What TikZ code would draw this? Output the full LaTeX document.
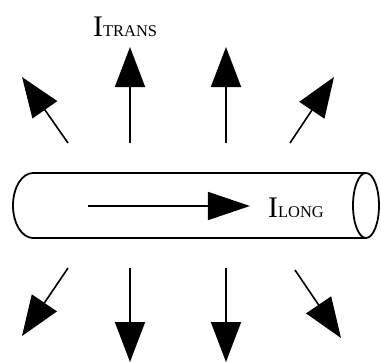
\documentclass[tikz,border=0pt]{standalone}
\usepackage{fontspec}
\setmainfont{Liberation Serif}
\usetikzlibrary{arrows.meta,positioning}

\newcommand{\curlabel}[1]{{\fontsize{30}{32}\selectfont I}{\fontsize{16.5}{18}\selectfont #1}}

\begin{document}
\begin{tikzpicture}[x=1bp,y=-1bp,
    emit/.style={line width=1.6bp,-{Triangle[length=40bp,width=30bp]}},
    flow/.style={line width=1.6bp,-{Triangle[length=42bp,width=28bp]}},
    label/.style={inner sep=0pt,anchor=base west}]
  \tikzstyle{wire}=[line width=1.8bp,line join=round]
  \useasboundingbox (0,0) rectangle (381,362);

  % Wire
  \coordinate (tl) at (33,173);
  \coordinate (tr) at (366,173);
  \coordinate (bl) at (33,238);
  \coordinate (br) at (366,238);
  \draw[wire] (tl) -- (tr) (bl) -- (br);
  \draw[wire] (tl) arc[start angle=-90,end angle=-270,x radius=20,y radius=32.5];
  \draw[wire] (366,205.5) ellipse[x radius=13,y radius=32.5];

  % Longitudinal current
  \coordinate (l0) at (88,206);
  \coordinate (l1) at (250,206);
  \draw[flow] (l0) -- (l1);
  \node[label] (long) at (268,217) {\curlabel{LONG}};

  % Transverse emission, top
  \coordinate (t1a) at (68,143);  \coordinate (t1b) at (22,77);
  \coordinate (t2a) at (130,143); \coordinate (t2b) at (130,47);
  \coordinate (t3a) at (226,143); \coordinate (t3b) at (226,47);
  \coordinate (t4a) at (290,143); \coordinate (t4b) at (334,77);
  \draw[emit] (t1a) -- (t1b);
  \draw[emit] (t2a) -- (t2b);
  \draw[emit] (t3a) -- (t3b);
  \draw[emit] (t4a) -- (t4b);
  \node[label] (trans) at (93,36) {\curlabel{TRANS}};

  % Transverse emission, bottom
  \coordinate (b1a) at (68,268);  \coordinate (b1b) at (22,336);
  \coordinate (b2a) at (130,268); \coordinate (b2b) at (130,362);
  \coordinate (b3a) at (226,268); \coordinate (b3b) at (226,362);
  \coordinate (b4a) at (295,270); \coordinate (b4b) at (341,338);
  \draw[emit] (b1a) -- (b1b);
  \draw[emit] (b2a) -- (b2b);
  \draw[emit] (b3a) -- (b3b);
  \draw[emit] (b4a) -- (b4b);

\end{tikzpicture}
\end{document}
